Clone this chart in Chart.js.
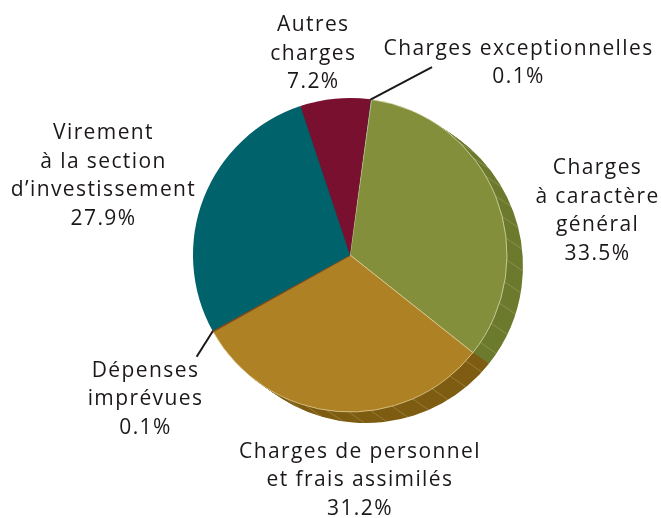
<!DOCTYPE html>
<html>
<head>
<meta charset="utf-8">
<script src="https://cdn.jsdelivr.net/npm/chart.js@4/dist/chart.umd.min.js"></script>
<style>
    body { margin: 0; background: #fff; }
    #chartBudget { display: block; }
</style>
</head>
<body>
<canvas id="chartBudget" width="661" height="518"></canvas>
<script>
// Données du graphique (ordre horaire à partir du haut)
var categories = [
    ['Charges exceptionnelles'],
    ['Charges', 'à caractère', 'général'],
    ['Charges de personnel', 'et frais assimilés'],
    ['Dépenses', 'imprévues'],
    ['Virement', 'à la section', 'd\u2019investissement'],
    ['Autres', 'charges']
];
var valeurs = [0.1, 33.5, 31.2, 0.1, 27.9, 7.2];

// Couleurs : face du dessus et tranche (effet 3D)
var coresFace = ['#2b2424', '#848f3c', '#ae8125', '#7a4a1e', '#00636b', '#7a1030'];
var coresLado = ['#2b2424', '#6c7a2d', '#7e5d12', '#5e3912', '#004b52', '#5a0a22'];
var bordas = ['#2b2424', '#e6e2bf', '#e8d9a8', '#7a4a1e', 'rgba(0,0,0,0)', 'rgba(0,0,0,0)'];
var larguraBorda = [1.6, 0.7, 0.7, 1.6, 0, 0];

// Placement des étiquettes (décalage angulaire en degrés, distance au centre en px)
var placement = [
    { shift: 33.3, dist: 256, leaderShift: 15.9, leaderDist: 205 },
    { shift: 11.4, dist: 251 },
    { shift: -7, dist: 224 },
    { shift: -5.8, dist: 250, leaderShift: -4.5, leaderDist: 184 },
    { shift: -3.3, dist: 260 },
    { shift: -5, dist: 206 }
];

var profondeur = { dx: 16, dy: 11, passos: 16 };

function caminhoFatia(ctx, x, y, r, a0, a1) {
    ctx.beginPath();
    ctx.moveTo(x, y);
    ctx.arc(x, y, r, a0, a1);
    ctx.closePath();
}

// Tranche 3D dessinée derrière la face, à partir des arcs calculés par Chart.js
var pluginEspessura = {
    id: 'espessura',
    beforeDatasetsDraw: function (chart) {
        var ctx = chart.ctx;
        var arcos = chart.getDatasetMeta(0).data;
        ctx.save();
        for (var k = profondeur.passos; k >= 1; k--) {
            var ox = profondeur.dx * k / profondeur.passos;
            var oy = profondeur.dy * k / profondeur.passos;
            for (var i = 0; i < arcos.length; i++) {
                var a = arcos[i].getProps(['x', 'y', 'startAngle', 'endAngle', 'outerRadius'], true);
                ctx.fillStyle = coresLado[i];
                caminhoFatia(ctx, a.x + ox, a.y + oy, a.outerRadius, a.startAngle, a.endAngle);
                ctx.fill();
            }
        }
        // petites lignes claires sur la tranche
        ctx.strokeStyle = 'rgba(225,220,185,0.35)';
        ctx.lineWidth = 0.7;
        for (var j = 0; j < arcos.length; j++) {
            var b = arcos[j].getProps(['x', 'y', 'startAngle', 'endAngle', 'outerRadius'], true);
            var passo = 8 * Math.PI / 180;
            for (var t = b.startAngle + passo / 2; t < b.endAngle; t += passo) {
                var px = b.x + b.outerRadius * Math.cos(t);
                var py = b.y + b.outerRadius * Math.sin(t);
                ctx.beginPath();
                ctx.moveTo(px, py);
                ctx.lineTo(px + profondeur.dx, py + profondeur.dy);
                ctx.stroke();
            }
        }
        ctx.restore();
    }
};

// Étiquettes extérieures et traits de rappel
var pluginRotulos = {
    id: 'rotulos',
    afterDraw: function (chart) {
        var ctx = chart.ctx;
        var arcos = chart.getDatasetMeta(0).data;
        var alturaLinha = 28.5;
        ctx.save();
        ctx.font = '21px "Open Sans"';
        ctx.letterSpacing = '1.4px';
        ctx.fillStyle = '#1c1819';
        ctx.textAlign = 'center';
        ctx.textBaseline = 'alphabetic';
        for (var i = 0; i < arcos.length; i++) {
            var a = arcos[i].getProps(['x', 'y', 'startAngle', 'endAngle', 'outerRadius'], true);
            var meio = (a.startAngle + a.endAngle) / 2;
            var p = placement[i];

            if (p.leaderDist) {
                var ang = meio + p.leaderShift * Math.PI / 180;
                ctx.strokeStyle = '#1c1819';
                ctx.lineWidth = 2;
                ctx.beginPath();
                ctx.moveTo(a.x + a.outerRadius * Math.cos(meio), a.y + a.outerRadius * Math.sin(meio));
                ctx.lineTo(a.x + p.leaderDist * Math.cos(ang), a.y + p.leaderDist * Math.sin(ang));
                ctx.stroke();
            }

            var angTexto = meio + p.shift * Math.PI / 180;
            var cx = a.x + p.dist * Math.cos(angTexto);
            var cy = a.y + p.dist * Math.sin(angTexto);
            var linhas = categories[i].concat([valeurs[i].toFixed(1) + '%']);
            var topo = cy - (linhas.length - 1) * alturaLinha / 2 + 7.5;
            for (var l = 0; l < linhas.length; l++) {
                ctx.fillText(linhas[l], cx + 0.7, topo + l * alturaLinha);
            }
        }
        ctx.restore();
    }
};

var dados = {
    labels: categories.map(function (c) { return c.join(' '); }),
    datasets: [
        {
            data: valeurs,
            backgroundColor: coresFace,
            borderColor: bordas,
            borderWidth: larguraBorda,
            radius: 157,
            rotation: 7.5,
            hoverOffset: 0
        }
    ]
};

var config = {
    type: 'pie',
    data: dados,
    options: {
        responsive: false,
        animation: false,
        layout: { padding: { left: 60, right: 21, top: 20, bottom: 28 } },
        plugins: {
            legend: { display: false },
            tooltip: { enabled: false }
        }
    },
    plugins: [pluginEspessura, pluginRotulos]
};

var myChart = new Chart(document.getElementById('chartBudget'), config);
</script>
</body>
</html>
